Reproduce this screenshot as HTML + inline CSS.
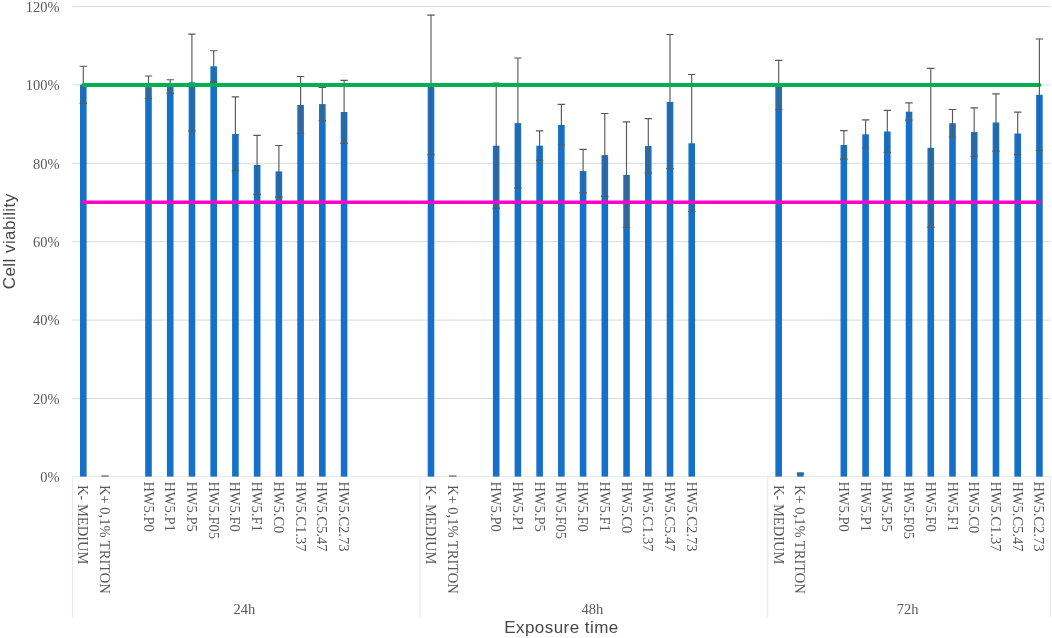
<!DOCTYPE html>
<html lang="en"><head><meta charset="utf-8"><title>Cell viability chart</title>
<style>html,body{margin:0;padding:0;background:#fff}svg{display:block}.s{font-family:"Liberation Serif",serif;font-size:14.5px;fill:#595959}.t{font-family:"Liberation Sans",sans-serif;font-size:17px;fill:#474747;letter-spacing:0.45px}</style></head><body>
<svg width="1052" height="638" viewBox="0 0 1052 638">
<rect width="1052" height="638" fill="#fff"/>
<g stroke="#d9d9d9" stroke-width="1">
<line x1="72.4" y1="6.5" x2="1050.3" y2="6.5"/>
<line x1="72.4" y1="84.9" x2="1050.3" y2="84.9"/>
<line x1="72.4" y1="163.3" x2="1050.3" y2="163.3"/>
<line x1="72.4" y1="241.7" x2="1050.3" y2="241.7"/>
<line x1="72.4" y1="320.1" x2="1050.3" y2="320.1"/>
<line x1="72.4" y1="398.5" x2="1050.3" y2="398.5"/>
</g>
<g stroke="#e6e6e6" stroke-width="1"><line x1="72.4" y1="476.6" x2="1050.3" y2="476.6"/>
<line x1="72.4" y1="476.6" x2="72.4" y2="617"/>
<line x1="420.1" y1="476.6" x2="420.1" y2="617"/>
<line x1="767.8" y1="476.6" x2="767.8" y2="617"/>
<line x1="1050.3" y1="476.6" x2="1050.3" y2="617"/>
</g>
<g fill="#1570c9">
<rect x="80.00" y="84.8" width="6.6" height="391.8"/>
<rect x="145.19" y="87.1" width="6.6" height="389.5"/>
<rect x="166.92" y="86.5" width="6.6" height="390.1"/>
<rect x="188.65" y="82.3" width="6.6" height="394.3"/>
<rect x="210.38" y="66.3" width="6.6" height="410.3"/>
<rect x="232.11" y="134.0" width="6.6" height="342.6"/>
<rect x="253.84" y="165.0" width="6.6" height="311.6"/>
<rect x="275.57" y="171.4" width="6.6" height="305.2"/>
<rect x="297.30" y="105.0" width="6.6" height="371.6"/>
<rect x="319.03" y="104.1" width="6.6" height="372.5"/>
<rect x="340.76" y="112.0" width="6.6" height="364.6"/>
<rect x="427.68" y="84.9" width="6.6" height="391.7"/>
<rect x="492.87" y="145.7" width="6.6" height="330.9"/>
<rect x="514.60" y="123.1" width="6.6" height="353.5"/>
<rect x="536.33" y="145.7" width="6.6" height="330.9"/>
<rect x="558.06" y="124.9" width="6.6" height="351.7"/>
<rect x="579.79" y="171.1" width="6.6" height="305.5"/>
<rect x="601.52" y="155.1" width="6.6" height="321.5"/>
<rect x="623.25" y="174.9" width="6.6" height="301.7"/>
<rect x="644.98" y="146.0" width="6.6" height="330.6"/>
<rect x="666.71" y="101.9" width="6.6" height="374.7"/>
<rect x="688.44" y="143.3" width="6.6" height="333.3"/>
<rect x="775.36" y="85.0" width="6.6" height="391.6"/>
<rect x="797.09" y="472.4" width="6.6" height="4.2"/>
<rect x="840.55" y="145.0" width="6.6" height="331.6"/>
<rect x="862.28" y="134.3" width="6.6" height="342.3"/>
<rect x="884.01" y="131.5" width="6.6" height="345.1"/>
<rect x="905.74" y="111.7" width="6.6" height="364.9"/>
<rect x="927.47" y="147.8" width="6.6" height="328.8"/>
<rect x="949.20" y="123.2" width="6.6" height="353.4"/>
<rect x="970.93" y="132.1" width="6.6" height="344.5"/>
<rect x="992.66" y="122.5" width="6.6" height="354.1"/>
<rect x="1014.39" y="133.5" width="6.6" height="343.1"/>
<rect x="1036.12" y="94.8" width="6.6" height="381.8"/>
</g>
<g stroke="#595959" stroke-width="1.15" fill="none">
<path d="M83.3 66.2V103.4M79.6 66.2H87.0M79.6 103.4H87.0"/>
<path d="M101.3 476.0H108.7"/>
<path d="M148.5 76.0V98.4M144.8 76.0H152.2M144.8 98.4H152.2"/>
<path d="M170.2 79.7V93.4M166.5 79.7H173.9M166.5 93.4H173.9"/>
<path d="M191.9 34.1V130.8M188.2 34.1H195.6M188.2 130.8H195.6"/>
<path d="M213.7 50.7V81.9M210.0 50.7H217.4M210.0 81.9H217.4"/>
<path d="M235.4 96.9V170.9M231.7 96.9H239.1M231.7 170.9H239.1"/>
<path d="M257.1 135.4V194.3M253.4 135.4H260.8M253.4 194.3H260.8"/>
<path d="M278.9 145.5V197.1M275.2 145.5H282.6M275.2 197.1H282.6"/>
<path d="M300.6 76.5V133.2M296.9 76.5H304.3M296.9 133.2H304.3"/>
<path d="M322.3 87.5V120.5M318.6 87.5H326.0M318.6 120.5H326.0"/>
<path d="M344.1 80.4V143.3M340.4 80.4H347.8M340.4 143.3H347.8"/>
<path d="M431.0 15.1V154.7M427.3 15.1H434.7M427.3 154.7H434.7"/>
<path d="M449.0 476.0H456.4"/>
<path d="M496.2 83.1V208.1M492.5 83.1H499.9M492.5 208.1H499.9"/>
<path d="M517.9 58.0V188.1M514.2 58.0H521.6M514.2 188.1H521.6"/>
<path d="M539.6 130.9V160.3M535.9 130.9H543.3M535.9 160.3H543.3"/>
<path d="M561.4 104.3V145.1M557.7 104.3H565.1M557.7 145.1H565.1"/>
<path d="M583.1 149.4V192.8M579.4 149.4H586.8M579.4 192.8H586.8"/>
<path d="M604.8 113.5V196.4M601.1 113.5H608.5M601.1 196.4H608.5"/>
<path d="M626.5 121.9V227.5M622.8 121.9H630.2M622.8 227.5H630.2"/>
<path d="M648.3 118.6V173.1M644.6 118.6H652.0M644.6 173.1H652.0"/>
<path d="M670.0 34.5V168.6M666.3 34.5H673.7M666.3 168.6H673.7"/>
<path d="M691.7 74.5V211.5M688.0 74.5H695.4M688.0 211.5H695.4"/>
<path d="M778.7 60.4V109.5M775.0 60.4H782.4M775.0 109.5H782.4"/>
<path d="M796.7 473.3H804.1"/>
<path d="M843.9 130.6V159.1M840.1 130.6H847.6M840.1 159.1H847.6"/>
<path d="M865.6 119.9V148.0M861.9 119.9H869.3M861.9 148.0H869.3"/>
<path d="M887.3 110.3V152.4M883.6 110.3H891.0M883.6 152.4H891.0"/>
<path d="M909.0 102.9V120.1M905.3 102.9H912.7M905.3 120.1H912.7"/>
<path d="M930.8 68.3V227.3M927.1 68.3H934.5M927.1 227.3H934.5"/>
<path d="M952.5 109.5V137.1M948.8 109.5H956.2M948.8 137.1H956.2"/>
<path d="M974.2 107.9V156.3M970.5 107.9H977.9M970.5 156.3H977.9"/>
<path d="M996.0 93.8V151.1M992.3 93.8H999.7M992.3 151.1H999.7"/>
<path d="M1017.7 112.1V154.6M1014.0 112.1H1021.4M1014.0 154.6H1021.4"/>
</g>
<line x1="83.3" y1="85" x2="1039.4" y2="85" stroke="#00b050" stroke-width="3.8" stroke-linecap="round"/>
<line x1="83.3" y1="202.3" x2="1039.4" y2="202.3" stroke="#ff00c8" stroke-width="3.6" stroke-linecap="round"/>
<path stroke="#595959" stroke-width="1.15" fill="none" d="M1039.4 39.0V150.6M1035.7 39.0H1043.1M1035.7 150.6H1043.1"/>
<g class="s" text-anchor="end">
<text x="59.7" y="11.7">120%</text>
<text x="59.7" y="90.1">100%</text>
<text x="59.7" y="168.5">80%</text>
<text x="59.7" y="246.9">60%</text>
<text x="59.7" y="325.3">40%</text>
<text x="59.7" y="403.7">20%</text>
<text x="59.7" y="482.1">0%</text>
</g>
<g class="s">
<text transform="translate(78.3 481.4) rotate(90)" xml:space="preserve"> K- MEDIUM</text>
<text transform="translate(100.0 481.4) rotate(90)" xml:space="preserve"> K+ 0,1% TRITON</text>
<text transform="translate(143.5 481.4) rotate(90)" xml:space="preserve">HW5.P0</text>
<text transform="translate(165.2 481.4) rotate(90)" xml:space="preserve">HW5.P1</text>
<text transform="translate(186.9 481.4) rotate(90)" xml:space="preserve">HW5.P5</text>
<text transform="translate(208.7 481.4) rotate(90)" xml:space="preserve">HW5.F05</text>
<text transform="translate(230.4 481.4) rotate(90)" xml:space="preserve">HW5.F0</text>
<text transform="translate(252.1 481.4) rotate(90)" xml:space="preserve">HW5.F1</text>
<text transform="translate(273.9 481.4) rotate(90)" xml:space="preserve">HW5.C0</text>
<text transform="translate(295.6 481.4) rotate(90)" xml:space="preserve">HW5.C1.37</text>
<text transform="translate(317.3 481.4) rotate(90)" xml:space="preserve">HW5.C5.47</text>
<text transform="translate(339.1 481.4) rotate(90)" xml:space="preserve">HW5.C2.73</text>
<text transform="translate(426.0 481.4) rotate(90)" xml:space="preserve"> K- MEDIUM</text>
<text transform="translate(447.7 481.4) rotate(90)" xml:space="preserve"> K+ 0,1% TRITON</text>
<text transform="translate(491.2 481.4) rotate(90)" xml:space="preserve">HW5.P0</text>
<text transform="translate(512.9 481.4) rotate(90)" xml:space="preserve">HW5.P1</text>
<text transform="translate(534.6 481.4) rotate(90)" xml:space="preserve">HW5.P5</text>
<text transform="translate(556.4 481.4) rotate(90)" xml:space="preserve">HW5.F05</text>
<text transform="translate(578.1 481.4) rotate(90)" xml:space="preserve">HW5.F0</text>
<text transform="translate(599.8 481.4) rotate(90)" xml:space="preserve">HW5.F1</text>
<text transform="translate(621.5 481.4) rotate(90)" xml:space="preserve">HW5.C0</text>
<text transform="translate(643.3 481.4) rotate(90)" xml:space="preserve">HW5.C1.37</text>
<text transform="translate(665.0 481.4) rotate(90)" xml:space="preserve">HW5.C5.47</text>
<text transform="translate(686.7 481.4) rotate(90)" xml:space="preserve">HW5.C2.73</text>
<text transform="translate(773.7 481.4) rotate(90)" xml:space="preserve"> K- MEDIUM</text>
<text transform="translate(795.4 481.4) rotate(90)" xml:space="preserve"> K+ 0,1% TRITON</text>
<text transform="translate(838.9 481.4) rotate(90)" xml:space="preserve">HW5.P0</text>
<text transform="translate(860.6 481.4) rotate(90)" xml:space="preserve">HW5.P1</text>
<text transform="translate(882.3 481.4) rotate(90)" xml:space="preserve">HW5.P5</text>
<text transform="translate(904.0 481.4) rotate(90)" xml:space="preserve">HW5.F05</text>
<text transform="translate(925.8 481.4) rotate(90)" xml:space="preserve">HW5.F0</text>
<text transform="translate(947.5 481.4) rotate(90)" xml:space="preserve">HW5.F1</text>
<text transform="translate(969.2 481.4) rotate(90)" xml:space="preserve">HW5.C0</text>
<text transform="translate(991.0 481.4) rotate(90)" xml:space="preserve">HW5.C1.37</text>
<text transform="translate(1012.7 481.4) rotate(90)" xml:space="preserve">HW5.C5.47</text>
<text transform="translate(1034.4 481.4) rotate(90)" xml:space="preserve">HW5.C2.73</text>
</g>
<g class="s" text-anchor="middle">
<text x="244.3" y="613.6">24h</text>
<text x="592.3" y="613.6">48h</text>
<text x="907.7" y="613.6">72h</text>
</g>
<text class="t" text-anchor="middle" x="561.4" y="633">Exposure time</text>
<text class="t" text-anchor="middle" transform="translate(14.9 241.3) rotate(-90)">Cell viability</text>
</svg></body></html>
